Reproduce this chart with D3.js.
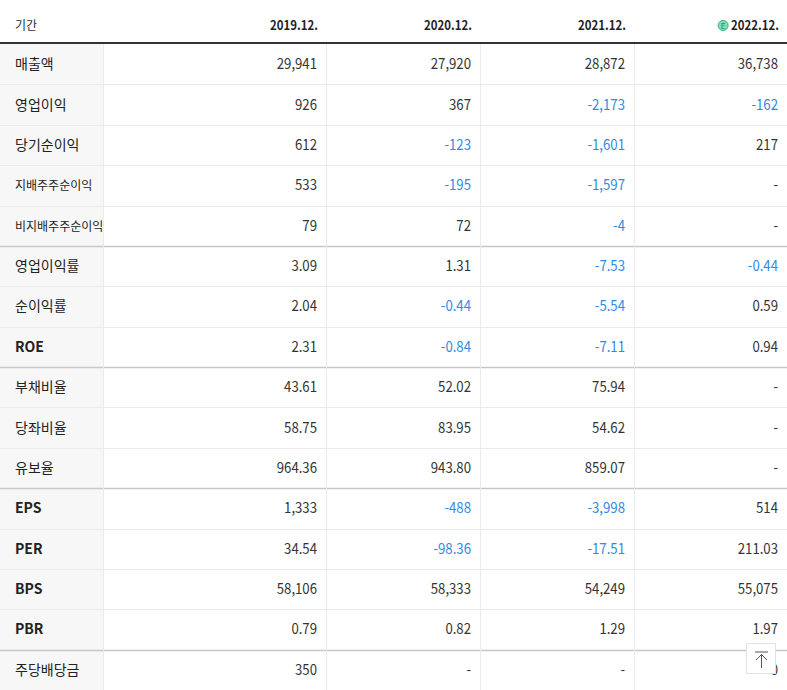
<!DOCTYPE html>
<html><head><meta charset="utf-8">
<script src="https://cdn.jsdelivr.net/npm/d3@7"></script>
<style>body{margin:0;background:#fff;} text{font-family:"Noto Sans CJK KR","Noto Sans",sans-serif;}</style>
</head><body>
<svg id="t" width="787" height="690"></svg>
<script>
// 기간 (열 머리)
const periods = ["2019.12.", "2020.12.", "2021.12.", "2022.12."];
const rowLabels = ["매출액","영업이익","당기순이익","지배주주순이익","비지배주주순이익","영업이익률","순이익률","ROE","부채비율","당좌비율","유보율","EPS","PER","BPS","PBR","주당배당금"];
const v2019 = ["29,941","926","612","533","79","3.09","2.04","2.31","43.61","58.75","964.36","1,333","34.54","58,106","0.79","350"];
const v2020 = ["27,920","367","-123","-195","72","1.31","-0.44","-0.84","52.02","83.95","943.80","-488","-98.36","58,333","0.82","-"];
const v2021 = ["28,872","-2,173","-1,601","-1,597","-4","-7.53","-5.54","-7.11","75.94","54.62","859.07","-3,998","-17.51","54,249","1.29","-"];
const v2022 = ["36,738","-162","217","-","-","-0.44","0.59","0.94","-","-","-","514","211.03","55,075","1.97","0"];
const groupEnds = [4, 7, 10, 14];
const series = [v2019, v2020, v2021, v2022];

const svg = d3.select("#t");
const W = 787, headH = 44;
const y = d3.scaleBand().domain(d3.range(rowLabels.length)).range([headH, 690]);
const colEdges = [0, 103, 326, 480, 634, 787];
const sx = 0.88; // 좁은 글꼴 흉내

// 레이블 열 배경
svg.append("rect").attr("x", 0).attr("y", headH).attr("width", 103).attr("height", 690 - headH).attr("fill", "#f7f7f7");

// 행 구분선
svg.selectAll(".rl").data(d3.range(rowLabels.length)).enter().append("line")
  .attr("x1", 0).attr("x2", W)
  .attr("y1", i => Math.round(y(i) + y.bandwidth()) + 0.5).attr("y2", i => Math.round(y(i) + y.bandwidth()) + 0.5)
  .attr("stroke", i => groupEnds.includes(i) ? "#c8c8c8" : "#ebebeb")
  .attr("stroke-width", i => groupEnds.includes(i) ? 1.5 : 1);

// 열 구분선
svg.selectAll(".cl").data(colEdges.slice(1, 5)).enter().append("line")
  .attr("x1", d => d + 0.5).attr("x2", d => d + 0.5).attr("y1", headH).attr("y2", 690)
  .attr("stroke", "#ebebeb");

// 머리줄
svg.append("line").attr("x1", 0).attr("x2", W).attr("y1", 43).attr("y2", 43).attr("stroke", "#333").attr("stroke-width", 2);
svg.append("text").attr("x", 15).attr("y", 30).attr("font-size", 12).attr("fill", "#333").text("기간");
const heads = svg.selectAll(".ph").data(periods).enter().append("text")
  .attr("transform", (d, i) => `translate(${colEdges[i + 2] - 8},30) scale(${sx},1)`).attr("text-anchor", "end")
  .attr("font-size", 13).attr("font-weight", "bold").attr("fill", "#222").text(d => d);
const lastW = heads.nodes()[3].getComputedTextLength() * sx;
const cx = colEdges[5] - 8 - lastW - 8;
svg.append("circle").attr("cx", cx).attr("cy", 25.5).attr("r", 5).attr("fill", "#7de0b8").attr("stroke", "#2fb37f");
svg.append("text").attr("x", cx).attr("y", 28.5).attr("text-anchor", "middle").attr("font-size", 8).attr("fill", "#1a8a5a").text("E");

// 행 레이블
svg.selectAll(".lb").data(rowLabels).enter().append("text")
  .attr("x", 15).attr("y", (d, i) => y(i) + y.bandwidth() / 2 + 5)
  .attr("font-size", d => d.length > 5 ? 12 : 14).attr("fill", "#222")
  .attr("font-weight", d => /^[A-Z]+$/.test(d) ? "bold" : "normal").text(d => d);

// 값
series.forEach((vals, c) => {
  svg.selectAll(".v" + c).data(vals).enter().append("text")
    .attr("transform", (d, i) => `translate(${colEdges[c + 2] - 9},${y(i) + y.bandwidth() / 2 + 5}) scale(${sx},1)`)
    .attr("text-anchor", "end").attr("font-size", 15)
    .attr("fill", d => d.startsWith("-") && d !== "-" ? "#2f89e6" : "#333").text(d => d);
});

// 위로 버튼
svg.append("rect").attr("x", 746.5).attr("y", 643.5).attr("width", 29).attr("height", 30).attr("fill", "#fff").attr("stroke", "#e3e3e3");
svg.append("line").attr("x1", 755).attr("x2", 768).attr("y1", 652).attr("y2", 652).attr("stroke", "#555");
svg.append("path").attr("d", "M761.5,668 V655 M756,660 L761.5,654.5 L767,660").attr("fill", "none").attr("stroke", "#555");
</script>
</body></html>
